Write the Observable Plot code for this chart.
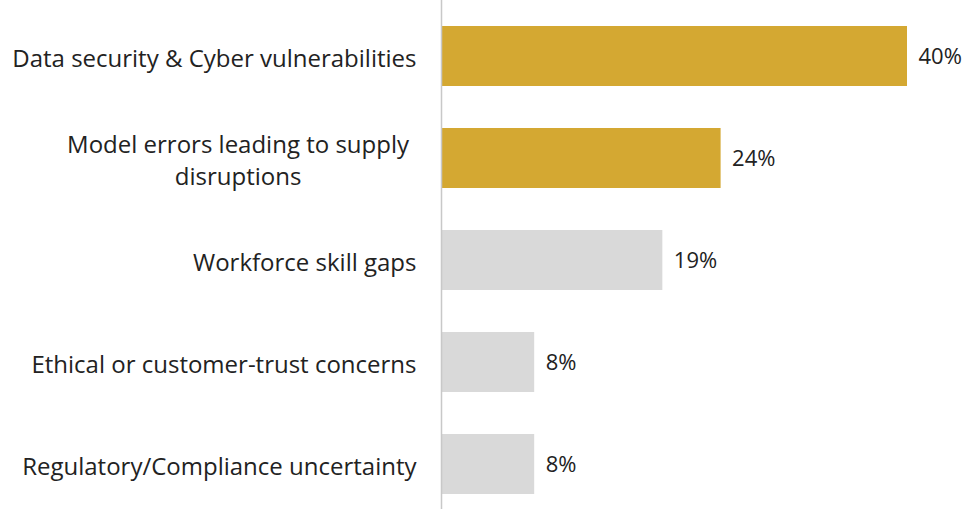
<!DOCTYPE html>
<html><head><meta charset="utf-8">
<script src="https://cdn.jsdelivr.net/npm/d3@7"></script>
<script src="https://cdn.jsdelivr.net/npm/@observablehq/plot@0.6"></script>
<style>
body{margin:0;background:#fff;}
#chart svg{font-family:"Open Sans";}
</style></head><body><div id="chart"></div>
<script>
const categories = ["Data security & Cyber vulnerabilities","Model errors leading to supply\ndisruptions","Workforce skill gaps","Ethical or customer-trust concerns","Regulatory/Compliance uncertainty"];
const values = [40,24,19,8,8];
const groups = ["top","top","other","other","other"];
const data = categories.map((c,i)=>({category:c, value:values[i], group:groups[i]}));
const chart = Plot.plot({
 width:980,height:509,marginLeft:441,marginRight:73,marginTop:15,marginBottom:5,
 style:{fontFamily:"Open Sans", fontSize:"24px", color:"#222", background:"#fff"},
 x:{domain:[0,40],axis:null},
 y:{domain:categories, paddingInner:0.413, paddingOuter:0.1, label:null},
 color:{domain:["top","other"], range:["#D4A832","#D9D9D9"]},
 marks:[
  Plot.barX(data,{y:"category",x:"value",fill:"group"}),
  Plot.ruleX([0],{stroke:"#c8c8c8",strokeWidth:1.5,insetTop:-15,insetBottom:-5}),
  Plot.text(data,{y:"category",x:"value",text:d=>d.value+"%",textAnchor:"start",dx:11,fill:"#222",fontSize:22}),
  Plot.axisY({tickSize:0,tickPadding:25,lineHeight:1.33,fill:"#222",label:null})
 ]
});
document.getElementById("chart").appendChild(chart);
// center wrapped label lines under each other
d3.select(chart).selectAll("text").each(function(){
  const t = d3.select(this);
  const spans = t.selectAll("tspan");
  if (spans.size() > 1) {
    const bb = this.getBBox();
    t.attr("text-anchor","middle");
    spans.attr("x", bb.x + bb.width/2 - 8);
  }
});
</script></body></html>
